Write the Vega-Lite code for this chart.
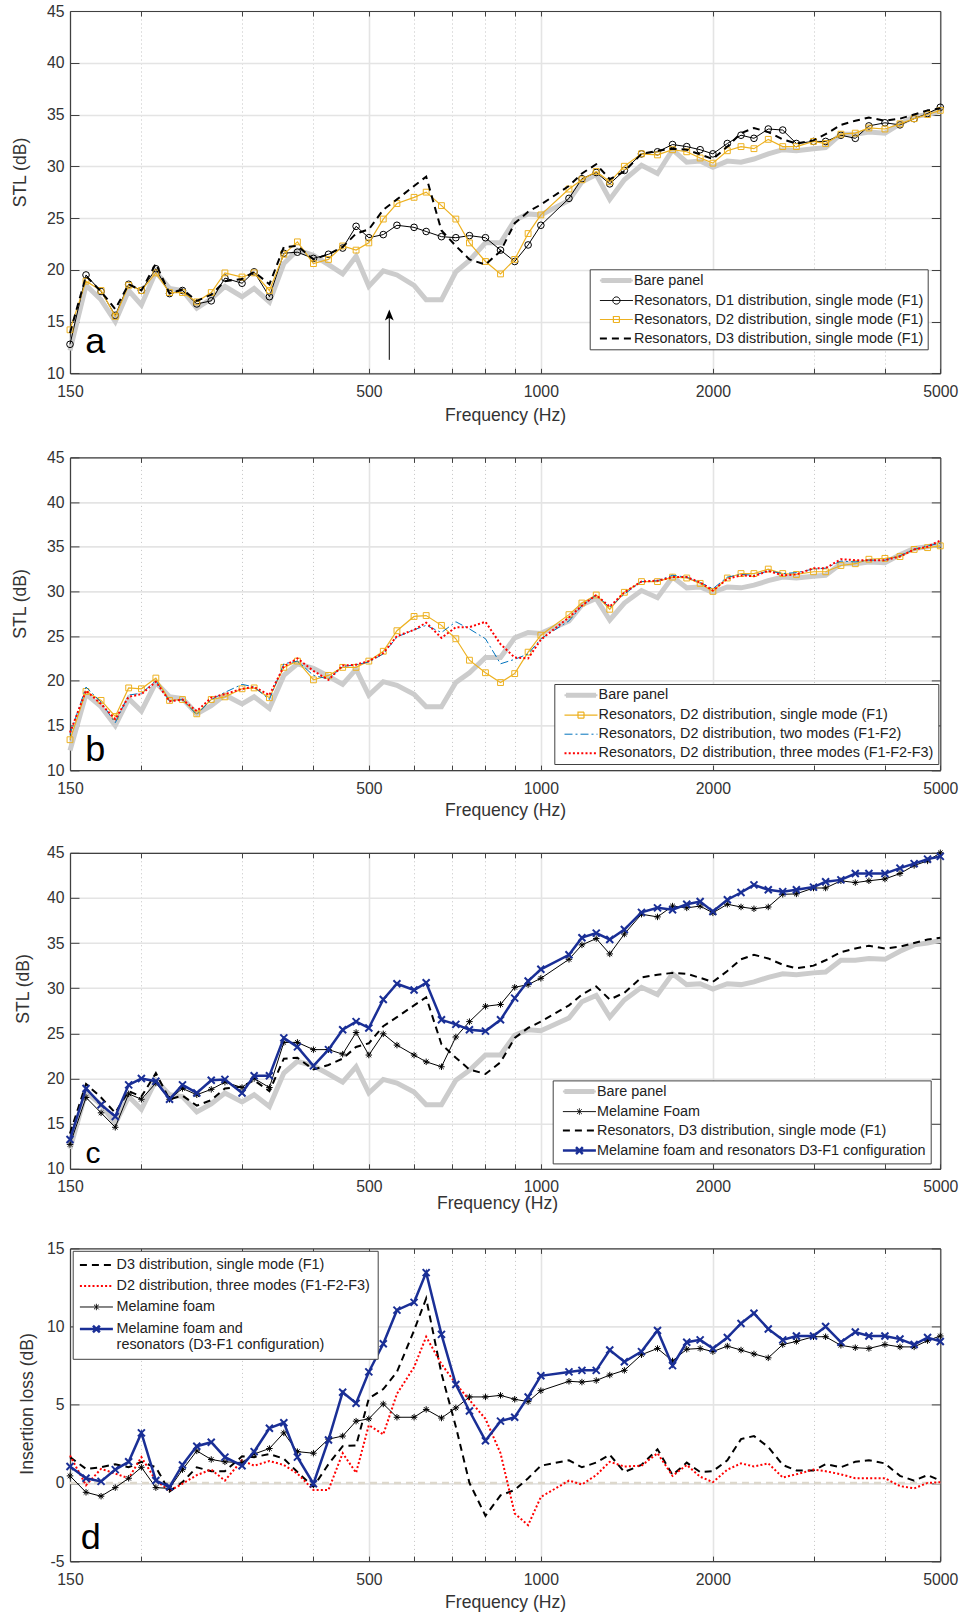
{"$schema":"https://vega.github.io/schema/vega-lite/v6.json","padding":{"left":11,"top":3,"right":3,"bottom":2},"background":"white","bounds":"flush","spacing":83.4,
"config":{"font":"Liberation Sans","view":{"stroke":null},"point":{"opacity":1},
"axis":{"labelFontSize":15.8,"labelColor":"#333333","titleFontSize":17.6,"titleFontWeight":"normal","titleColor":"#333333","tickColor":"#404040","domainColor":"#404040","domainWidth":1.2,"gridColor":"#e4e4e4","gridWidth":1.6,"labelFlush":false,"labelOverlap":false,"labelBound":false},
"legend":{"orient":"none","labelFontSize":14.4,"labelColor":"#222222","symbolSize":16,"labelLimit":500,"strokeColor":"#404040","fillColor":"white","padding":4,"rowPadding":4,"labelOffset":10.4,"symbolOffset":15.5}},
"datasets":{
"none":[{"f":null,"y":null}],
"bare":[{"f":150,"y":12.2},{"f":160,"y":18.5},{"f":170,"y":17.1},{"f":180,"y":15},{"f":190,"y":18},{"f":200,"y":16.6},{"f":212,"y":19.8},{"f":224,"y":18.2},{"f":236,"y":18},{"f":250,"y":16.3},{"f":265,"y":17.2},{"f":280,"y":18.4},{"f":300,"y":17.4},{"f":315,"y":18.2},{"f":335,"y":16.9},{"f":355,"y":20.6},{"f":375,"y":21.9},{"f":400,"y":21.4},{"f":425,"y":20.5},{"f":450,"y":19.6},{"f":475,"y":21.3},{"f":500,"y":18.4},{"f":530,"y":19.9},{"f":560,"y":19.5},{"f":600,"y":18.5},{"f":630,"y":17.1},{"f":670,"y":17.1},{"f":710,"y":19.8},{"f":750,"y":20.9},{"f":800,"y":22.6},{"f":850,"y":22.6},{"f":900,"y":24.8},{"f":950,"y":25.4},{"f":1000,"y":25.3},{"f":1120,"y":26.7},{"f":1180,"y":28.5},{"f":1250,"y":29.2},{"f":1320,"y":26.8},{"f":1400,"y":28.7},{"f":1500,"y":30.1},{"f":1600,"y":29.3},{"f":1700,"y":31.6},{"f":1800,"y":30.4},{"f":1900,"y":30.5},{"f":2000,"y":29.9},{"f":2120,"y":30.5},{"f":2240,"y":30.4},{"f":2360,"y":30.7},{"f":2500,"y":31.2},{"f":2650,"y":31.6},{"f":2800,"y":31.5},{"f":3000,"y":31.7},{"f":3150,"y":31.8},{"f":3350,"y":33.1},{"f":3550,"y":33.1},{"f":3750,"y":33.3},{"f":4000,"y":33.2},{"f":4250,"y":34.1},{"f":4500,"y":34.8},{"f":4750,"y":35},{"f":5000,"y":35.3}],
"a_d1":[{"f":150,"y":12.8},{"f":160,"y":19.5},{"f":170,"y":17.9},{"f":180,"y":15.6},{"f":190,"y":18.6},{"f":200,"y":18},{"f":212,"y":20.1},{"f":224,"y":17.7},{"f":236,"y":18},{"f":250,"y":16.7},{"f":265,"y":17},{"f":280,"y":19.2},{"f":300,"y":18.7},{"f":315,"y":19.8},{"f":335,"y":17.4},{"f":355,"y":21.6},{"f":375,"y":21.7},{"f":400,"y":21.1},{"f":425,"y":21.5},{"f":450,"y":22.1},{"f":475,"y":24.2},{"f":500,"y":23.1},{"f":530,"y":23.4},{"f":560,"y":24.3},{"f":600,"y":24.1},{"f":630,"y":23.7},{"f":670,"y":23.2},{"f":710,"y":23.1},{"f":750,"y":23.3},{"f":800,"y":23.1},{"f":850,"y":21.9},{"f":900,"y":20.8},{"f":950,"y":22.4},{"f":1000,"y":24.3},{"f":1120,"y":26.9},{"f":1180,"y":28.8},{"f":1250,"y":29.4},{"f":1320,"y":28.3},{"f":1400,"y":29.6},{"f":1500,"y":31.2},{"f":1600,"y":31.4},{"f":1700,"y":32.1},{"f":1800,"y":31.9},{"f":1900,"y":31.6},{"f":2000,"y":31.2},{"f":2120,"y":32.2},{"f":2240,"y":33},{"f":2360,"y":32.7},{"f":2500,"y":33.6},{"f":2650,"y":33.5},{"f":2800,"y":32.2},{"f":3000,"y":32.4},{"f":3150,"y":32.4},{"f":3350,"y":33},{"f":3550,"y":32.7},{"f":3750,"y":33.9},{"f":4000,"y":34.2},{"f":4250,"y":34},{"f":4500,"y":34.6},{"f":4750,"y":35.1},{"f":5000,"y":35.7}],
"a_d2":[{"f":150,"y":14.2},{"f":160,"y":18.9},{"f":170,"y":18},{"f":180,"y":15.5},{"f":190,"y":18.5},{"f":200,"y":18},{"f":212,"y":19.7},{"f":224,"y":17.8},{"f":236,"y":17.8},{"f":250,"y":16.9},{"f":265,"y":17.8},{"f":280,"y":19.7},{"f":300,"y":19.3},{"f":315,"y":19.7},{"f":335,"y":18},{"f":355,"y":21.5},{"f":375,"y":22.7},{"f":400,"y":20.6},{"f":425,"y":21},{"f":450,"y":22.3},{"f":475,"y":21.9},{"f":500,"y":22.6},{"f":530,"y":24.9},{"f":560,"y":26.4},{"f":600,"y":27},{"f":630,"y":27.5},{"f":670,"y":26.2},{"f":710,"y":24.9},{"f":750,"y":22.6},{"f":800,"y":20.8},{"f":850,"y":19.6},{"f":900,"y":21},{"f":950,"y":23.5},{"f":1000,"y":25.3},{"f":1120,"y":27.8},{"f":1180,"y":28.7},{"f":1250,"y":29.5},{"f":1320,"y":28.5},{"f":1400,"y":30},{"f":1500,"y":31.2},{"f":1600,"y":31.1},{"f":1700,"y":31.6},{"f":1800,"y":31.4},{"f":1900,"y":30.8},{"f":2000,"y":30.3},{"f":2120,"y":31.5},{"f":2240,"y":31.9},{"f":2360,"y":31.7},{"f":2500,"y":32.6},{"f":2650,"y":31.9},{"f":2800,"y":31.9},{"f":3000,"y":32.4},{"f":3150,"y":32.2},{"f":3350,"y":33.1},{"f":3550,"y":33.2},{"f":3750,"y":33.7},{"f":4000,"y":33.6},{"f":4250,"y":34.1},{"f":4500,"y":34.6},{"f":4750,"y":35},{"f":5000,"y":35.4}],
"d3":[{"f":150,"y":13.9},{"f":160,"y":19.4},{"f":170,"y":17.9},{"f":180,"y":16.2},{"f":190,"y":18.6},{"f":200,"y":18},{"f":212,"y":20.6},{"f":224,"y":17.7},{"f":236,"y":18.1},{"f":250,"y":17},{"f":265,"y":17.6},{"f":280,"y":18.9},{"f":300,"y":19.1},{"f":315,"y":19.8},{"f":335,"y":18.6},{"f":355,"y":22.2},{"f":375,"y":22.3},{"f":400,"y":21},{"f":425,"y":21.5},{"f":450,"y":22.2},{"f":475,"y":23.5},{"f":500,"y":23.9},{"f":530,"y":25.8},{"f":560,"y":26.8},{"f":600,"y":28.1},{"f":630,"y":29},{"f":670,"y":23.8},{"f":710,"y":22.3},{"f":750,"y":21},{"f":800,"y":20.5},{"f":850,"y":21.8},{"f":900,"y":24.5},{"f":950,"y":25.6},{"f":1000,"y":26.3},{"f":1120,"y":28.1},{"f":1180,"y":29.3},{"f":1250,"y":30.2},{"f":1320,"y":28.75},{"f":1400,"y":29.5},{"f":1500,"y":31.2},{"f":1600,"y":31.5},{"f":1700,"y":31.7},{"f":1800,"y":31.6},{"f":1900,"y":31.15},{"f":2000,"y":30.7},{"f":2120,"y":31.9},{"f":2240,"y":33.2},{"f":2360,"y":33.7},{"f":2500,"y":33.3},{"f":2650,"y":32.6},{"f":2800,"y":32.2},{"f":3000,"y":32.5},{"f":3150,"y":33.1},{"f":3350,"y":34},{"f":3550,"y":34.4},{"f":3750,"y":34.7},{"f":4000,"y":34.4},{"f":4250,"y":34.6},{"f":4500,"y":35},{"f":4750,"y":35.4},{"f":5000,"y":35.6}],
"b_d2":[{"f":150,"y":13.4},{"f":160,"y":18.8},{"f":170,"y":17.8},{"f":180,"y":16},{"f":190,"y":19.2},{"f":200,"y":19.1},{"f":212,"y":20.3},{"f":224,"y":17.8},{"f":236,"y":17.9},{"f":250,"y":16.3},{"f":265,"y":17.9},{"f":280,"y":18.2},{"f":300,"y":19.1},{"f":315,"y":19.2},{"f":335,"y":18.1},{"f":355,"y":21.5},{"f":375,"y":22.2},{"f":400,"y":20.1},{"f":425,"y":20.6},{"f":450,"y":21.5},{"f":475,"y":21.5},{"f":500,"y":22.2},{"f":530,"y":23.3},{"f":560,"y":25.6},{"f":600,"y":27.2},{"f":630,"y":27.3},{"f":670,"y":26.2},{"f":710,"y":24.7},{"f":750,"y":22.3},{"f":800,"y":20.9},{"f":850,"y":19.8},{"f":900,"y":20.8},{"f":950,"y":23.2},{"f":1000,"y":25.1},{"f":1120,"y":27.4},{"f":1180,"y":28.7},{"f":1250,"y":29.6},{"f":1320,"y":28},{"f":1400,"y":29.9},{"f":1500,"y":31.1},{"f":1600,"y":31.1},{"f":1700,"y":31.6},{"f":1800,"y":31.5},{"f":1900,"y":30.9},{"f":2000,"y":30},{"f":2120,"y":31.5},{"f":2240,"y":32},{"f":2360,"y":32},{"f":2500,"y":32.5},{"f":2650,"y":32},{"f":2800,"y":31.9},{"f":3000,"y":32.2},{"f":3150,"y":32.2},{"f":3350,"y":32.9},{"f":3550,"y":33.1},{"f":3750,"y":33.6},{"f":4000,"y":33.7},{"f":4250,"y":33.9},{"f":4500,"y":34.7},{"f":4750,"y":34.9},{"f":5000,"y":35.1}],
"b_two":[{"f":150,"y":14},{"f":160,"y":19.3},{"f":170,"y":17.6},{"f":180,"y":15.3},{"f":190,"y":18.4},{"f":200,"y":18.6},{"f":212,"y":20},{"f":224,"y":17.7},{"f":236,"y":17.9},{"f":250,"y":16.2},{"f":265,"y":17.9},{"f":280,"y":18.7},{"f":300,"y":19.6},{"f":315,"y":19.3},{"f":335,"y":17.9},{"f":355,"y":21.9},{"f":375,"y":22.2},{"f":400,"y":20.6},{"f":425,"y":20.2},{"f":450,"y":21.6},{"f":475,"y":21.8},{"f":500,"y":22.1},{"f":530,"y":23},{"f":560,"y":24.9},{"f":600,"y":25.7},{"f":630,"y":26.2},{"f":670,"y":25.4},{"f":710,"y":26.6},{"f":750,"y":25.8},{"f":800,"y":24.7},{"f":850,"y":21.9},{"f":900,"y":22.4},{"f":950,"y":23},{"f":1000,"y":24.7},{"f":1120,"y":26.7},{"f":1180,"y":28.4},{"f":1250,"y":29.6},{"f":1320,"y":28.2},{"f":1400,"y":29.7},{"f":1500,"y":31.1},{"f":1600,"y":31.2},{"f":1700,"y":31.8},{"f":1800,"y":31.6},{"f":1900,"y":31},{"f":2000,"y":30.3},{"f":2120,"y":31.6},{"f":2240,"y":31.9},{"f":2360,"y":31.8},{"f":2500,"y":32.3},{"f":2650,"y":32},{"f":2800,"y":32.1},{"f":3000,"y":32.5},{"f":3150,"y":32.6},{"f":3350,"y":33.4},{"f":3550,"y":33.3},{"f":3750,"y":33.5},{"f":4000,"y":33.5},{"f":4250,"y":34},{"f":4500,"y":34.7},{"f":4750,"y":35.1},{"f":5000,"y":35.4}],
"b_three":[{"f":150,"y":14.2},{"f":160,"y":18.9},{"f":170,"y":17.4},{"f":180,"y":15.7},{"f":190,"y":18.2},{"f":200,"y":18.5},{"f":212,"y":19.9},{"f":224,"y":17.7},{"f":236,"y":17.9},{"f":250,"y":16.6},{"f":265,"y":18.1},{"f":280,"y":18.5},{"f":300,"y":19.1},{"f":315,"y":19.3},{"f":335,"y":18.4},{"f":355,"y":21.6},{"f":375,"y":22.5},{"f":400,"y":21.1},{"f":425,"y":20.1},{"f":450,"y":21.7},{"f":475,"y":21.8},{"f":500,"y":22.2},{"f":530,"y":23.1},{"f":560,"y":25},{"f":600,"y":25.7},{"f":630,"y":26.5},{"f":670,"y":24.8},{"f":710,"y":26},{"f":750,"y":26},{"f":800,"y":26.6},{"f":850,"y":24.1},{"f":900,"y":22.6},{"f":950,"y":22.5},{"f":1000,"y":24.6},{"f":1120,"y":27.1},{"f":1180,"y":28.4},{"f":1250,"y":29.6},{"f":1320,"y":28.3},{"f":1400,"y":29.9},{"f":1500,"y":31.1},{"f":1600,"y":31.2},{"f":1700,"y":31.6},{"f":1800,"y":31.6},{"f":1900,"y":31},{"f":2000,"y":30.1},{"f":2120,"y":31.4},{"f":2240,"y":31.8},{"f":2360,"y":31.7},{"f":2500,"y":32.3},{"f":2650,"y":31.8},{"f":2800,"y":31.9},{"f":3000,"y":32.6},{"f":3150,"y":32.6},{"f":3350,"y":33.6},{"f":3550,"y":33.5},{"f":3750,"y":33.5},{"f":4000,"y":33.5},{"f":4250,"y":33.9},{"f":4500,"y":34.7},{"f":4750,"y":35},{"f":5000,"y":35.7}],
"c_mel":[{"f":150,"y":12.7},{"f":160,"y":17.9},{"f":170,"y":16.2},{"f":180,"y":14.6},{"f":190,"y":18.3},{"f":200,"y":17.7},{"f":212,"y":19.5},{"f":224,"y":17.7},{"f":236,"y":18.9},{"f":250,"y":18.2},{"f":265,"y":18.8},{"f":280,"y":19.6},{"f":300,"y":19},{"f":315,"y":20},{"f":335,"y":19},{"f":355,"y":24},{"f":375,"y":24},{"f":400,"y":23.2},{"f":425,"y":23.2},{"f":450,"y":22.7},{"f":475,"y":25.1},{"f":500,"y":22.6},{"f":530,"y":24.95},{"f":560,"y":23.7},{"f":600,"y":22.6},{"f":630,"y":21.85},{"f":670,"y":21.3},{"f":710,"y":24.6},{"f":750,"y":26.3},{"f":800,"y":28},{"f":850,"y":28.2},{"f":900,"y":30.1},{"f":950,"y":30.4},{"f":1000,"y":31.1},{"f":1120,"y":33.2},{"f":1180,"y":34.8},{"f":1250,"y":35.5},{"f":1320,"y":33.8},{"f":1400,"y":36},{"f":1500,"y":38.2},{"f":1600,"y":37.9},{"f":1700,"y":39.1},{"f":1800,"y":38.9},{"f":1900,"y":39.1},{"f":2000,"y":38.35},{"f":2120,"y":39.3},{"f":2240,"y":39},{"f":2360,"y":38.8},{"f":2500,"y":39},{"f":2650,"y":40.4},{"f":2800,"y":40.45},{"f":3000,"y":41.1},{"f":3150,"y":41.1},{"f":3350,"y":41.9},{"f":3550,"y":41.7},{"f":3750,"y":41.9},{"f":4000,"y":42.1},{"f":4250,"y":42.7},{"f":4500,"y":43.6},{"f":4750,"y":44.1},{"f":5000,"y":45}],
"c_combo":[{"f":150,"y":13.25},{"f":160,"y":18.9},{"f":170,"y":17.1},{"f":180,"y":15.8},{"f":190,"y":19.3},{"f":200,"y":20},{"f":212,"y":19.7},{"f":224,"y":17.7},{"f":236,"y":19.3},{"f":250,"y":18.4},{"f":265,"y":19.8},{"f":280,"y":19.9},{"f":300,"y":18.4},{"f":315,"y":20.3},{"f":335,"y":20.3},{"f":355,"y":24.5},{"f":375,"y":23.5},{"f":400,"y":21.4},{"f":425,"y":23.2},{"f":450,"y":25.4},{"f":475,"y":26.3},{"f":500,"y":25.6},{"f":530,"y":28.75},{"f":560,"y":30.5},{"f":600,"y":29.8},{"f":630,"y":30.6},{"f":670,"y":26.5},{"f":710,"y":26},{"f":750,"y":25.4},{"f":800,"y":25.25},{"f":850,"y":26.5},{"f":900,"y":28.9},{"f":950,"y":30.8},{"f":1000,"y":32.1},{"f":1120,"y":33.7},{"f":1180,"y":35.6},{"f":1250,"y":36.1},{"f":1320,"y":35.4},{"f":1400,"y":36.5},{"f":1500,"y":38.4},{"f":1600,"y":38.9},{"f":1700,"y":38.7},{"f":1800,"y":39.3},{"f":1900,"y":39.6},{"f":2000,"y":38.5},{"f":2120,"y":39.8},{"f":2240,"y":40.6},{"f":2360,"y":41.45},{"f":2500,"y":40.9},{"f":2650,"y":40.7},{"f":2800,"y":40.9},{"f":3000,"y":41.2},{"f":3150,"y":41.8},{"f":3350,"y":42},{"f":3550,"y":42.7},{"f":3750,"y":42.7},{"f":4000,"y":42.7},{"f":4250,"y":43.3},{"f":4500,"y":43.8},{"f":4750,"y":44.3},{"f":5000,"y":44.6}],
"d_zero":[{"f":150,"y":0},{"f":5000,"y":0}],
"d_d3":[{"f":150,"y":1.65},{"f":160,"y":0.9},{"f":170,"y":1},{"f":180,"y":1.2},{"f":190,"y":1},{"f":200,"y":1.35},{"f":212,"y":1},{"f":224,"y":-0.55},{"f":236,"y":0.05},{"f":250,"y":1},{"f":265,"y":0.75},{"f":280,"y":0.75},{"f":300,"y":1.7},{"f":315,"y":1.65},{"f":335,"y":1.85},{"f":355,"y":1.55},{"f":375,"y":0.7},{"f":400,"y":-0.25},{"f":425,"y":1.2},{"f":450,"y":2.35},{"f":475,"y":2.4},{"f":500,"y":5.4},{"f":530,"y":6},{"f":560,"y":7.1},{"f":600,"y":9.75},{"f":630,"y":11.8},{"f":670,"y":7},{"f":710,"y":3.6},{"f":750,"y":0},{"f":800,"y":-2.1},{"f":850,"y":-0.8},{"f":900,"y":-0.45},{"f":950,"y":0.3},{"f":1000,"y":1.1},{"f":1120,"y":1.45},{"f":1180,"y":1},{"f":1250,"y":1.3},{"f":1320,"y":1.8},{"f":1400,"y":0.7},{"f":1500,"y":1.15},{"f":1600,"y":2.15},{"f":1700,"y":0.5},{"f":1800,"y":1.3},{"f":1900,"y":0.7},{"f":2000,"y":0.75},{"f":2120,"y":1.45},{"f":2240,"y":2.8},{"f":2360,"y":3},{"f":2500,"y":2.3},{"f":2650,"y":1.15},{"f":2800,"y":0.8},{"f":3000,"y":0.8},{"f":3150,"y":1.2},{"f":3350,"y":1},{"f":3550,"y":1.35},{"f":3750,"y":1.45},{"f":4000,"y":1.25},{"f":4250,"y":0.45},{"f":4500,"y":0.15},{"f":4750,"y":0.5},{"f":5000,"y":0.15}],
"d_three":[{"f":150,"y":1.75},{"f":160,"y":-0.15},{"f":170,"y":0.9},{"f":180,"y":0.6},{"f":190,"y":0.3},{"f":200,"y":1.65},{"f":212,"y":0.15},{"f":224,"y":-0.5},{"f":236,"y":-0.05},{"f":250,"y":0.5},{"f":265,"y":0.85},{"f":280,"y":0.15},{"f":300,"y":1.45},{"f":315,"y":1.1},{"f":335,"y":1.4},{"f":355,"y":1.15},{"f":375,"y":0.6},{"f":400,"y":-0.45},{"f":425,"y":-0.45},{"f":450,"y":1.9},{"f":475,"y":0.65},{"f":500,"y":3.7},{"f":530,"y":3.1},{"f":560,"y":5.7},{"f":600,"y":7.4},{"f":630,"y":9.35},{"f":670,"y":7.6},{"f":710,"y":6.35},{"f":750,"y":5.3},{"f":800,"y":4.1},{"f":850,"y":1.9},{"f":900,"y":-1.95},{"f":950,"y":-2.7},{"f":1000,"y":-0.9},{"f":1120,"y":0.15},{"f":1180,"y":-0.1},{"f":1250,"y":0.5},{"f":1320,"y":1.35},{"f":1400,"y":1.05},{"f":1500,"y":1.1},{"f":1600,"y":1.9},{"f":1700,"y":0.45},{"f":1800,"y":1.15},{"f":1900,"y":0.4},{"f":2000,"y":0.05},{"f":2120,"y":0.85},{"f":2240,"y":1.25},{"f":2360,"y":1.05},{"f":2500,"y":1.25},{"f":2650,"y":0.35},{"f":2800,"y":0.55},{"f":3000,"y":0.85},{"f":3150,"y":0.75},{"f":3350,"y":0.55},{"f":3550,"y":0.3},{"f":3750,"y":0.3},{"f":4000,"y":0.3},{"f":4250,"y":-0.2},{"f":4500,"y":-0.35},{"f":4750,"y":0},{"f":5000,"y":0.05}],
"d_mel":[{"f":150,"y":0.45},{"f":160,"y":-0.6},{"f":170,"y":-0.85},{"f":180,"y":-0.3},{"f":190,"y":0.3},{"f":200,"y":1},{"f":212,"y":-0.3},{"f":224,"y":-0.35},{"f":236,"y":0.85},{"f":250,"y":2.05},{"f":265,"y":1.5},{"f":280,"y":1.35},{"f":300,"y":1.3},{"f":315,"y":1.85},{"f":335,"y":2.2},{"f":355,"y":3.2},{"f":375,"y":2},{"f":400,"y":1.9},{"f":425,"y":2.8},{"f":450,"y":3},{"f":475,"y":3.95},{"f":500,"y":4.1},{"f":530,"y":5.05},{"f":560,"y":4.2},{"f":600,"y":4.2},{"f":630,"y":4.7},{"f":670,"y":4.15},{"f":710,"y":4.8},{"f":750,"y":5.5},{"f":800,"y":5.5},{"f":850,"y":5.6},{"f":900,"y":5.35},{"f":950,"y":5.2},{"f":1000,"y":5.9},{"f":1120,"y":6.5},{"f":1180,"y":6.45},{"f":1250,"y":6.55},{"f":1320,"y":6.9},{"f":1400,"y":7.2},{"f":1500,"y":8.2},{"f":1600,"y":8.6},{"f":1700,"y":7.8},{"f":1800,"y":8.55},{"f":1900,"y":8.6},{"f":2000,"y":8.4},{"f":2120,"y":8.75},{"f":2240,"y":8.5},{"f":2360,"y":8.25},{"f":2500,"y":8},{"f":2650,"y":8.85},{"f":2800,"y":9.05},{"f":3000,"y":9.35},{"f":3150,"y":9.35},{"f":3350,"y":8.8},{"f":3550,"y":8.65},{"f":3750,"y":8.6},{"f":4000,"y":8.85},{"f":4250,"y":8.7},{"f":4500,"y":8.7},{"f":4750,"y":9.1},{"f":5000,"y":9.4}],
"d_combo":[{"f":150,"y":1.05},{"f":160,"y":0.3},{"f":170,"y":0.1},{"f":180,"y":0.85},{"f":190,"y":1.35},{"f":200,"y":3.2},{"f":212,"y":0.15},{"f":224,"y":-0.25},{"f":236,"y":1.15},{"f":250,"y":2.35},{"f":265,"y":2.6},{"f":280,"y":1.65},{"f":300,"y":1.1},{"f":315,"y":2},{"f":335,"y":3.5},{"f":355,"y":3.85},{"f":375,"y":1.65},{"f":400,"y":-0.05},{"f":425,"y":2.75},{"f":450,"y":5.8},{"f":475,"y":5.1},{"f":500,"y":7.1},{"f":530,"y":8.9},{"f":560,"y":11.05},{"f":600,"y":11.55},{"f":630,"y":13.45},{"f":670,"y":9.5},{"f":710,"y":6.3},{"f":750,"y":4.6},{"f":800,"y":2.7},{"f":850,"y":3.95},{"f":900,"y":4.2},{"f":950,"y":5.5},{"f":1000,"y":6.85},{"f":1120,"y":7.1},{"f":1180,"y":7.2},{"f":1250,"y":7.2},{"f":1320,"y":8.5},{"f":1400,"y":7.75},{"f":1500,"y":8.4},{"f":1600,"y":9.75},{"f":1700,"y":7.5},{"f":1800,"y":9},{"f":1900,"y":9.15},{"f":2000,"y":8.6},{"f":2120,"y":9.3},{"f":2240,"y":10.2},{"f":2360,"y":10.85},{"f":2500,"y":9.85},{"f":2650,"y":9.15},{"f":2800,"y":9.4},{"f":3000,"y":9.4},{"f":3150,"y":10},{"f":3350,"y":9},{"f":3550,"y":9.65},{"f":3750,"y":9.4},{"f":4000,"y":9.4},{"f":4250,"y":9.2},{"f":4500,"y":8.85},{"f":4750,"y":9.3},{"f":5000,"y":9.05}]
},
"resolve":{"scale":{"stroke":"independent","shape":"independent","strokeDash":"independent","strokeWidth":"independent"},"legend":{"stroke":"independent","shape":"independent","strokeDash":"independent","strokeWidth":"independent"}},
"vconcat":[
{"width":870.3,"height":362.3,
"encoding":{"x":{"field":"f","type":"quantitative","scale":{"type":"log","domain":[150,5000],"nice":false},"axis":null},"y":{"field":"y","type":"quantitative","scale":{"domain":[10,45],"nice":false,"zero":false},"axis":null}},
"resolve":{"axis":{"x":"independent","y":"independent"}},
"layer":[
{"data":{"name":"none"},"mark":"point","encoding":{"x":{"field":"f","type":"quantitative","scale":{"type":"log","domain":[150,5000],"nice":false},"axis":{"orient":"bottom","values":[150,500,1000,2000,5000],"format":"d","grid":true,"tickSize":-5,"labelPadding":16,"title":"Frequency (Hz)","titlePadding":7}},"y":{"field":"y","type":"quantitative","scale":{"domain":[10,45],"nice":false,"zero":false},"axis":{"orient":"left","values":[10,15,20,25,30,35,40,45],"grid":true,"tickSize":-9,"labelPadding":15,"title":"STL (dB)","titleX":-40.5,"titleY":161}}}},
{"data":{"name":"none"},"mark":"point","encoding":{"x":{"field":"f","type":"quantitative","scale":{"type":"log","domain":[150,5000],"nice":false},"axis":{"orient":"bottom","values":[200,300,400,600,700,800,900,3000,4000],"grid":true,"gridColor":"#c4c4c4","gridWidth":1,"gridDash":[1,3],"tickSize":-5,"labels":false,"domain":false,"title":null}}}},
{"data":{"name":"none"},"mark":"point","encoding":{"x":{"field":"f","type":"quantitative","scale":{"type":"log","domain":[150,5000],"nice":false},"axis":{"orient":"top","values":[200,300,400,500,600,700,800,900,1000,2000,3000,4000],"grid":false,"tickSize":-5,"labels":false,"title":null}},"y":{"field":"y","type":"quantitative","scale":{"domain":[10,45],"nice":false,"zero":false},"axis":{"orient":"right","values":[10,15,20,25,30,35,40,45],"grid":false,"tickSize":-9,"labels":false,"title":null}}}},
{"data":{"name":"bare"},"mark":{"type":"line","stroke":"#cccccc","strokeWidth":5}},
{"data":{"name":"a_d1"},"mark":{"type":"line","stroke":"black","strokeWidth":1}},
{"data":{"name":"a_d1"},"mark":{"type":"point","shape":"circle","filled":false,"stroke":"black","strokeWidth":1,"size":44}},
{"data":{"name":"a_d2"},"mark":{"type":"line","stroke":"#EDB120","strokeWidth":1.2}},
{"data":{"name":"a_d2"},"mark":{"type":"point","shape":"square","filled":false,"stroke":"#EDB120","strokeWidth":1,"size":34}},
{"data":{"name":"d3"},"mark":{"type":"line","stroke":"black","strokeWidth":2,"strokeDash":[7,5]}},
{"data":{"values":[{"f":543,"y":11.3,"y2":15.6}]},"mark":{"type":"rule","stroke":"black","strokeWidth":1},"encoding":{"y2":{"field":"y2"}}},
{"data":{"values":[{"f":543,"y":15.64}]},"mark":{"type":"point","shape":"M0,-1L.8,1L0,.5L-.8,1Z","filled":true,"color":"black","size":121}},
{"data":{"values":[{"f":166,"y":12,"t":"a"}]},"mark":{"type":"text","fontSize":36,"align":"center","baseline":"alphabetic","color":"black"},"encoding":{"text":{"field":"t"}}},
{"data":{"values":[{"s":"Bare panel","f":null,"y":null},{"s":"Resonators, D1 distribution, single mode (F1)","f":null,"y":null},{"s":"Resonators, D2 distribution, single mode (F1)","f":null,"y":null},{"s":"Resonators, D3 distribution, single mode (F1)","f":null,"y":null}]},"mark":{"type":"point","filled":false},
"encoding":{"stroke":{"field":"s","type":"nominal","scale":{"domain":["Bare panel","Resonators, D1 distribution, single mode (F1)","Resonators, D2 distribution, single mode (F1)","Resonators, D3 distribution, single mode (F1)"],"range":["#cccccc","black","#EDB120","black"]},"legend":{"title":null}},
"shape":{"field":"s","type":"nominal","scale":{"domain":["Bare panel","Resonators, D1 distribution, single mode (F1)","Resonators, D2 distribution, single mode (F1)","Resonators, D3 distribution, single mode (F1)"],"range":["M-7.5,-.5H7.5V.5H-7.5Z","M-8.25,0L8.25,0M-1.8,0A1.8,1.8,0,1,1,1.8,0A1.8,1.8,0,1,1,-1.8,0","M-8.25,0L8.25,0M-1.5,-1.5H1.5V1.5H-1.5Z","M-8.25,0L8.25,0"]},"legend":{"title":null,"legendX":519.7,"legendY":258.3,"encode":{"symbols":{"update":{"strokeJoin":{"value":"round"}}}}}},
"strokeDash":{"field":"s","type":"nominal","scale":{"domain":["Bare panel","Resonators, D1 distribution, single mode (F1)","Resonators, D2 distribution, single mode (F1)","Resonators, D3 distribution, single mode (F1)"],"range":[[1,0],[1,0],[1,0],[7,5]]},"legend":{"title":null}},
"strokeWidth":{"field":"s","type":"nominal","scale":{"type":"ordinal","domain":["Bare panel","Resonators, D1 distribution, single mode (F1)","Resonators, D2 distribution, single mode (F1)","Resonators, D3 distribution, single mode (F1)"],"range":[3,1,1.2,2]},"legend":{"title":null}}}}
]},
{"bounds":"flush","spacing":82.4,
"resolve":{"scale":{"stroke":"independent","shape":"independent","strokeDash":"independent","strokeWidth":"independent"},"legend":{"stroke":"independent","shape":"independent","strokeDash":"independent","strokeWidth":"independent"}},
"vconcat":[
{"width":870.3,"height":312.7,
"encoding":{"x":{"field":"f","type":"quantitative","scale":{"type":"log","domain":[150,5000],"nice":false},"axis":null},"y":{"field":"y","type":"quantitative","scale":{"domain":[10,45],"nice":false,"zero":false},"axis":null}},
"resolve":{"axis":{"x":"independent","y":"independent"}},
"layer":[
{"data":{"name":"none"},"mark":"point","encoding":{"x":{"field":"f","type":"quantitative","scale":{"type":"log","domain":[150,5000],"nice":false},"axis":{"orient":"bottom","values":[150,500,1000,2000,5000],"format":"d","grid":true,"tickSize":-5,"labelPadding":16,"title":"Frequency (Hz)","titlePadding":6}},"y":{"field":"y","type":"quantitative","scale":{"domain":[10,45],"nice":false,"zero":false},"axis":{"orient":"left","values":[10,15,20,25,30,35,40,45],"grid":true,"tickSize":-9,"labelPadding":15,"title":"STL (dB)","titleX":-40.5,"titleY":146}}}},
{"data":{"name":"none"},"mark":"point","encoding":{"x":{"field":"f","type":"quantitative","scale":{"type":"log","domain":[150,5000],"nice":false},"axis":{"orient":"bottom","values":[200,300,400,600,700,800,900,3000,4000],"grid":true,"gridColor":"#c4c4c4","gridWidth":1,"gridDash":[1,3],"tickSize":-5,"labels":false,"domain":false,"title":null}}}},
{"data":{"name":"none"},"mark":"point","encoding":{"x":{"field":"f","type":"quantitative","scale":{"type":"log","domain":[150,5000],"nice":false},"axis":{"orient":"top","values":[200,300,400,500,600,700,800,900,1000,2000,3000,4000],"grid":false,"tickSize":-5,"labels":false,"title":null}},"y":{"field":"y","type":"quantitative","scale":{"domain":[10,45],"nice":false,"zero":false},"axis":{"orient":"right","values":[10,15,20,25,30,35,40,45],"grid":false,"tickSize":-9,"labels":false,"title":null}}}},
{"data":{"name":"bare"},"mark":{"type":"line","stroke":"#cccccc","strokeWidth":5}},
{"data":{"name":"b_d2"},"mark":{"type":"line","stroke":"#EDB120","strokeWidth":1.2}},
{"data":{"name":"b_d2"},"mark":{"type":"point","shape":"square","filled":false,"stroke":"#EDB120","strokeWidth":1,"size":34}},
{"data":{"name":"b_two"},"mark":{"type":"line","stroke":"#0072BD","strokeWidth":1,"strokeDash":[8,3,2,3]}},
{"data":{"name":"b_three"},"mark":{"type":"line","stroke":"#ff0000","strokeWidth":2,"strokeDash":[2,2.2]}},
{"data":{"values":[{"f":166,"y":10.97,"t":"b"}]},"mark":{"type":"text","fontSize":36,"align":"center","baseline":"alphabetic","color":"black"},"encoding":{"text":{"field":"t"}}},
{"data":{"values":[{"s":"Bare panel","f":null,"y":null},{"s":"Resonators, D2 distribution, single mode (F1)","f":null,"y":null},{"s":"Resonators, D2 distribution, two modes (F1-F2)","f":null,"y":null},{"s":"Resonators, D2 distribution, three modes (F1-F2-F3)","f":null,"y":null}]},"mark":{"type":"point","filled":false},
"encoding":{"stroke":{"field":"s","type":"nominal","scale":{"domain":["Bare panel","Resonators, D2 distribution, single mode (F1)","Resonators, D2 distribution, two modes (F1-F2)","Resonators, D2 distribution, three modes (F1-F2-F3)"],"range":["#cccccc","#EDB120","#0072BD","#ff0000"]},"legend":{"title":null}},
"shape":{"field":"s","type":"nominal","scale":{"domain":["Bare panel","Resonators, D2 distribution, single mode (F1)","Resonators, D2 distribution, two modes (F1-F2)","Resonators, D2 distribution, three modes (F1-F2-F3)"],"range":["M-7.5,-.5H7.5V.5H-7.5Z","M-8.25,0L8.25,0M-1.5,-1.5H1.5V1.5H-1.5Z","M-8.25,0L8.25,0","M-8.25,0L8.25,0"]},"legend":{"title":null,"legendX":484.3,"legendY":226.6,"encode":{"symbols":{"update":{"strokeJoin":{"value":"round"}}}}}},
"strokeDash":{"field":"s","type":"nominal","scale":{"domain":["Bare panel","Resonators, D2 distribution, single mode (F1)","Resonators, D2 distribution, two modes (F1-F2)","Resonators, D2 distribution, three modes (F1-F2-F3)"],"range":[[1,0],[1,0],[8,3,2,3],[2,2.2]]},"legend":{"title":null}},
"strokeWidth":{"field":"s","type":"nominal","scale":{"type":"ordinal","domain":["Bare panel","Resonators, D2 distribution, single mode (F1)","Resonators, D2 distribution, two modes (F1-F2)","Resonators, D2 distribution, three modes (F1-F2-F3)"],"range":[3,1.2,1,2]},"legend":{"title":null}}}}
]},
{"bounds":"flush","spacing":79.6,
"resolve":{"scale":{"stroke":"independent","shape":"independent","strokeDash":"independent","strokeWidth":"independent"},"legend":{"stroke":"independent","shape":"independent","strokeDash":"independent","strokeWidth":"independent"}},
"vconcat":[
{"width":870.3,"height":316,
"encoding":{"x":{"field":"f","type":"quantitative","scale":{"type":"log","domain":[150,5000],"nice":false},"axis":null},"y":{"field":"y","type":"quantitative","scale":{"domain":[10,45],"nice":false,"zero":false},"axis":null}},
"resolve":{"axis":{"x":"independent","y":"independent"}},
"layer":[
{"data":{"name":"none"},"mark":"point","encoding":{"x":{"field":"f","type":"quantitative","scale":{"type":"log","domain":[150,5000],"nice":false},"axis":{"orient":"bottom","values":[150,500,1000,2000,5000],"format":"d","grid":true,"tickSize":-5,"labelPadding":16,"title":"Frequency (Hz)","titlePadding":0,"titleX":427}},"y":{"field":"y","type":"quantitative","scale":{"domain":[10,45],"nice":false,"zero":false},"axis":{"orient":"left","values":[10,15,20,25,30,35,40,45],"grid":true,"tickSize":-9,"labelPadding":15,"title":"STL (dB)","titleX":-37.5,"titleY":135.6}}}},
{"data":{"name":"none"},"mark":"point","encoding":{"x":{"field":"f","type":"quantitative","scale":{"type":"log","domain":[150,5000],"nice":false},"axis":{"orient":"bottom","values":[200,300,400,600,700,800,900,3000,4000],"grid":true,"gridColor":"#c4c4c4","gridWidth":1,"gridDash":[1,3],"tickSize":-5,"labels":false,"domain":false,"title":null}}}},
{"data":{"name":"none"},"mark":"point","encoding":{"x":{"field":"f","type":"quantitative","scale":{"type":"log","domain":[150,5000],"nice":false},"axis":{"orient":"top","values":[200,300,400,500,600,700,800,900,1000,2000,3000,4000],"grid":false,"tickSize":-5,"labels":false,"title":null}},"y":{"field":"y","type":"quantitative","scale":{"domain":[10,45],"nice":false,"zero":false},"axis":{"orient":"right","values":[10,15,20,25,30,35,40,45],"grid":false,"tickSize":-9,"labels":false,"title":null}}}},
{"data":{"name":"bare"},"mark":{"type":"line","stroke":"#cccccc","strokeWidth":5}},
{"data":{"name":"c_mel"},"mark":{"type":"line","stroke":"black","strokeWidth":1}},
{"data":{"name":"c_mel"},"mark":{"type":"point","shape":"M-1,0L1,0M0,-1L0,1M-.7,-.7L.7,.7M-.7,.7L.7,-.7","filled":false,"stroke":"black","strokeWidth":1,"size":42}},
{"data":{"name":"d3"},"mark":{"type":"line","stroke":"black","strokeWidth":2,"strokeDash":[7,5]}},
{"data":{"name":"c_combo"},"mark":{"type":"line","stroke":"#1a2f96","strokeWidth":2.5}},
{"data":{"name":"c_combo"},"mark":{"type":"point","shape":"M-1,-1L1,1M-1,1L1,-1","filled":false,"stroke":"#1a2f96","strokeWidth":2,"size":49}},
{"data":{"values":[{"f":164.6,"y":10.66,"t":"c"}]},"mark":{"type":"text","fontSize":30,"align":"center","baseline":"alphabetic","color":"black"},"encoding":{"text":{"field":"t"}}},
{"data":{"values":[{"s":"Bare panel","f":null,"y":null},{"s":"Melamine Foam","f":null,"y":null},{"s":"Resonators, D3 distribution, single mode (F1)","f":null,"y":null},{"s":"Melamine foam and resonators D3-F1 configuration","f":null,"y":null}]},"mark":{"type":"point","filled":false},
"encoding":{"stroke":{"field":"s","type":"nominal","scale":{"domain":["Bare panel","Melamine Foam","Resonators, D3 distribution, single mode (F1)","Melamine foam and resonators D3-F1 configuration"],"range":["#cccccc","black","black","#1a2f96"]},"legend":{"title":null}},
"shape":{"field":"s","type":"nominal","scale":{"domain":["Bare panel","Melamine Foam","Resonators, D3 distribution, single mode (F1)","Melamine foam and resonators D3-F1 configuration"],"range":["M-7.5,-.5H7.5V.5H-7.5Z","M-8.25,0L8.25,0M0,-1.6L0,1.6M-1.2,-1.2L1.2,1.2M-1.2,1.2L1.2,-1.2","M-8.25,0L8.25,0","M-8.25,0L8.25,0M-1.7,-1.7L1.7,1.7M-1.7,1.7L1.7,-1.7"]},"legend":{"title":null,"legendX":482.7,"legendY":227.6,"encode":{"symbols":{"update":{"strokeJoin":{"value":"round"}}}}}},
"strokeDash":{"field":"s","type":"nominal","scale":{"domain":["Bare panel","Melamine Foam","Resonators, D3 distribution, single mode (F1)","Melamine foam and resonators D3-F1 configuration"],"range":[[1,0],[1,0],[7,5],[1,0]]},"legend":{"title":null}},
"strokeWidth":{"field":"s","type":"nominal","scale":{"type":"ordinal","domain":["Bare panel","Melamine Foam","Resonators, D3 distribution, single mode (F1)","Melamine foam and resonators D3-F1 configuration"],"range":[3,1,2,2.5]},"legend":{"title":null}}}}
]},
{"width":870.3,"height":312.7,
"encoding":{"x":{"field":"f","type":"quantitative","scale":{"type":"log","domain":[150,5000],"nice":false},"axis":null},"y":{"field":"y","type":"quantitative","scale":{"domain":[-5,15],"nice":false,"zero":false},"axis":null}},
"resolve":{"axis":{"x":"independent","y":"independent"}},
"layer":[
{"data":{"name":"none"},"mark":"point","encoding":{"x":{"field":"f","type":"quantitative","scale":{"type":"log","domain":[150,5000],"nice":false},"axis":{"orient":"bottom","values":[150,500,1000,2000,5000],"format":"d","grid":true,"tickSize":-5,"labelPadding":16,"title":"Frequency (Hz)","titlePadding":7}},"y":{"field":"y","type":"quantitative","scale":{"domain":[-5,15],"nice":false,"zero":false},"axis":{"orient":"left","values":[-5,0,5,10,15],"labelExpr":"''+datum.value","grid":true,"tickSize":-9,"labelPadding":15,"title":"Insertion loss (dB)","titleX":-33.5,"titleY":155}}}},
{"data":{"name":"none"},"mark":"point","encoding":{"x":{"field":"f","type":"quantitative","scale":{"type":"log","domain":[150,5000],"nice":false},"axis":{"orient":"bottom","values":[200,300,400,600,700,800,900,3000,4000],"grid":true,"gridColor":"#c4c4c4","gridWidth":1,"gridDash":[1,3],"tickSize":-5,"labels":false,"domain":false,"title":null}}}},
{"data":{"name":"none"},"mark":"point","encoding":{"x":{"field":"f","type":"quantitative","scale":{"type":"log","domain":[150,5000],"nice":false},"axis":{"orient":"top","values":[200,300,400,500,600,700,800,900,1000,2000,3000,4000],"grid":false,"tickSize":-5,"labels":false,"title":null}},"y":{"field":"y","type":"quantitative","scale":{"domain":[-5,15],"nice":false,"zero":false},"axis":{"orient":"right","values":[-5,0,5,10,15],"grid":false,"tickSize":-9,"labels":false,"title":null}}}},
{"data":{"name":"d_zero"},"mark":{"type":"line","stroke":"#ddd8cc","strokeWidth":2.5,"strokeDash":[7,5]}},
{"data":{"name":"d_d3"},"mark":{"type":"line","stroke":"black","strokeWidth":2,"strokeDash":[7,5]}},
{"data":{"name":"d_three"},"mark":{"type":"line","stroke":"#ff0000","strokeWidth":2,"strokeDash":[2,2.2]}},
{"data":{"name":"d_mel"},"mark":{"type":"line","stroke":"black","strokeWidth":1}},
{"data":{"name":"d_mel"},"mark":{"type":"point","shape":"M-1,0L1,0M0,-1L0,1M-.7,-.7L.7,.7M-.7,.7L.7,-.7","filled":false,"stroke":"black","strokeWidth":1,"size":42}},
{"data":{"name":"d_combo"},"mark":{"type":"line","stroke":"#1a2f96","strokeWidth":2.5}},
{"data":{"name":"d_combo"},"mark":{"type":"point","shape":"M-1,-1L1,1M-1,1L1,-1","filled":false,"stroke":"#1a2f96","strokeWidth":2,"size":49}},
{"data":{"values":[{"f":163,"y":-4.2,"t":"d"}]},"mark":{"type":"text","fontSize":36,"align":"center","baseline":"alphabetic","color":"black"},"encoding":{"text":{"field":"t"}}},
{"data":{"values":[{"s":"D3 distribution, single mode (F1)","f":null,"y":null},{"s":"D2 distribution, three modes (F1-F2-F3)","f":null,"y":null},{"s":"Melamine foam","f":null,"y":null},{"s":"Melamine foam and|resonators (D3-F1 configuration)","f":null,"y":null}]},"mark":{"type":"point","filled":false},
"encoding":{"stroke":{"field":"s","type":"nominal","scale":{"domain":["D3 distribution, single mode (F1)","D2 distribution, three modes (F1-F2-F3)","Melamine foam","Melamine foam and|resonators (D3-F1 configuration)"],"range":["black","#ff0000","black","#1a2f96"]},"legend":{"title":null}},
"shape":{"field":"s","type":"nominal","scale":{"domain":["D3 distribution, single mode (F1)","D2 distribution, three modes (F1-F2-F3)","Melamine foam","Melamine foam and|resonators (D3-F1 configuration)"],"range":["M-8.25,0L8.25,0","M-8.25,0L8.25,0","M-8.25,0L8.25,0M0,-1.6L0,1.6M-1.2,-1.2L1.2,1.2M-1.2,1.2L1.2,-1.2","M-8.25,0L8.25,0M-1.7,-1.7L1.7,1.7M-1.7,1.7L1.7,-1.7"]},"legend":{"title":null,"legendX":2.7,"legendY":2.4,"labelExpr":"split(datum.label,'|')","rowPadding":6,"padding":7,"symbolOffset":9.5,"labelOffset":13,"encode":{"symbols":{"update":{"strokeJoin":{"value":"round"}}}}}},
"strokeDash":{"field":"s","type":"nominal","scale":{"domain":["D3 distribution, single mode (F1)","D2 distribution, three modes (F1-F2-F3)","Melamine foam","Melamine foam and|resonators (D3-F1 configuration)"],"range":[[7,5],[2,2.2],[1,0],[1,0]]},"legend":{"title":null}},
"strokeWidth":{"field":"s","type":"nominal","scale":{"type":"ordinal","domain":["D3 distribution, single mode (F1)","D2 distribution, three modes (F1-F2-F3)","Melamine foam","Melamine foam and|resonators (D3-F1 configuration)"],"range":[2,2,1,2.5]},"legend":{"title":null}}}}
]}
]}
]}
]}
